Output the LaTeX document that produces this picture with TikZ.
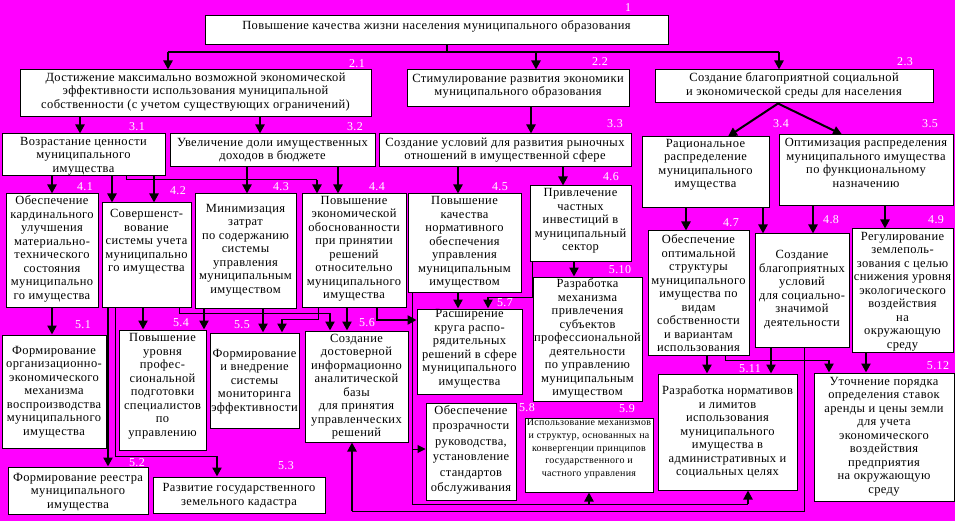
\documentclass[tikz,border=0pt]{standalone}
\usepackage{fontspec}
\setmainfont[LetterSpace=3]{Liberation Serif}
\usetikzlibrary{arrows.meta,fit}
\definecolor{bg}{RGB}{255,0,255}
\tikzset{
  boxst/.style={draw=black, fill=white, line width=1pt, inner sep=0pt},
  txt/.style={align=center, inner sep=0pt, font=\fontsize{12.5}{13.5}\selectfont},
  lab/.style={text=white, inner sep=0pt, font=\fontsize{12}{12}\selectfont},
  ta/.style={line width=2.6pt, -{Triangle[length=9pt,width=9pt]}},
  da/.style={line width=2pt, -{Triangle[length=9pt,width=9pt]}},
  tl/.style={line width=1pt},
  tlb/.style={line width=1.5pt},
  tha/.style={line width=1pt, -{Triangle[length=8pt,width=8pt]}},
}
\newcommand\mybox[8][]{%
  \node[boxst, fit={(#3,#4) (#5,#6)}] (#2) {};
  \node[txt,#1] (#2t) at ({(#3+#5)/2},#7) {#8};}
\newcommand\varr[3]{\draw[ta] (#1.south -| #3,0) -- (#2.north -| #3,0);}
\begin{document}
\begin{tikzpicture}[x=1pt,y=-1pt]
\useasboundingbox (0,0) rectangle (955,521);
\fill[bg] (0,0) rectangle (955,521);
% boxes
\mybox{b1}{205}{16}{668}{45}{26}{Повышение качества жизни населения муниципального образования}
\mybox{b21}{20}{70}{371}{117}{92}{Достижение максимально возможной экономической\\эффективности использования муниципальной\\собственности (с учетом существующих ограничений)}
\mybox{b22}{407}{70}{629}{107}{86}{Стимулирование развития экономики\\муниципального образования}
\mybox{b23}{655}{70}{933}{103}{85.5}{Создание благоприятной социальной\\и экономической среды для населения}
\mybox{b31}{2}{134}{165}{176}{156}{Возрастание ценности\\муниципального\\имущества}
\mybox{b32}{170}{134}{375}{167}{150}{Увеличение доли имущественных\\доходов в бюджете}
\mybox{b33}{379}{134}{631}{167}{150}{Создание условий для развития рыночных\\отношений в имущественной сфере}
\mybox{b34}{642}{137}{769}{208}{165}{Рациональное\\распределение\\муниципального\\имущества}
\mybox{b35}{779}{135}{953}{206}{163}{Оптимизация распределения\\муниципального имущества\\по функциональному\\назначению}
\mybox{b41}{6}{194}{98}{307}{249}{Обеспечение\\кардинального\\улучшения\\материально-\\технического\\состояния\\муниципально\\го имущества}
\mybox{b42}{102}{203}{191}{307}{242}{Совершенст-\\вование\\системы учета\\муниципально\\го имущества}
\mybox{b43}{195}{194}{296}{308}{250}{Минимизация\\затрат\\по содержанию\\системы\\управления\\муниципальным\\имуществом}
\mybox{b44}{302}{194}{406}{307}{249}{Повышение\\экономической\\обоснованности\\при принятии\\решений\\относительно\\муниципального\\имущества}
\mybox{b45}{408}{194}{521}{292}{242.5}{Повышение\\качества\\нормативного\\обеспечения\\управления\\муниципальным\\имуществом}
\mybox{b46}{530}{186}{631}{262}{221}{Привлечение\\частных\\инвестиций в\\муниципальный\\сектор}
\mybox{b47}{648}{231}{749}{355}{293.5}{Обеспечение\\оптимальной\\структуры\\муниципального\\имущества по\\видам\\собственности\\и вариантам\\использования}
\mybox{b48}{755}{234}{849}{347}{289.5}{Создание\\благоприятных\\условий\\для социально-\\значимой\\деятельности}
\mybox{b49}{852}{229}{953}{352}{291.5}{Регулирование\\землеполь-\\зования с целью\\снижения уровня\\экологического\\воздействия\\на\\окружающую\\среду}
\mybox{b51}{2}{335}{106}{448}{392}{Формирование\\организационно-\\экономического\\механизма\\воспроизводства\\муниципального\\имущества}
\mybox{b52}{8}{467}{148}{514}{492}{Формирование реестра\\муниципального\\имущества}
\mybox{b53}{153}{477}{325}{513}{495.5}{Развитие государственного\\земельного кадастра}
\mybox{b54}{119}{330}{206}{450}{386.5}{Повышение\\уровня\\профес-\\сиональной\\подготовки\\специалистов\\по\\управлению}
\mybox{b55}{210}{333}{299}{428}{381.5}{Формирование\\и внедрение\\системы\\мониторинга\\эффективности}
\mybox{b56}{305}{331}{408}{442}{386.5}{Создание\\достоверной\\информационно\\аналитической\\базы\\для принятия\\управленческих\\решений}
\mybox{b57}{417}{309}{522}{394}{349}{Расширение\\круга распо-\\рядительных\\решений в сфере\\муниципального\\имущества}
\mybox[font=\fontsize{12.5}{15.5}\selectfont]{b58}{426}{403}{516}{500}{450}{Обеспечение\\прозрачности\\руководства,\\установление\\стандартов\\обслуживания}
\mybox[font=\fontsize{10}{12.8}\selectfont]{b59}{525}{418}{653}{492}{449}{Использование механизмов\\и структур, основанных на\\конвергенции принципов\\государственного и\\частного управления}
\mybox{b510}{533}{277}{642}{401}{338.5}{Разработка\\механизма\\привлечения\\субъектов\\профессиональной\\деятельности\\по управлению\\муниципальным\\имуществом}
\mybox{b511}{658}{374}{797}{490}{432}{Разработка нормативов\\и лимитов\\использования\\муниципального\\имущества в\\административных и\\социальных целях}
\mybox{b512}{814}{373}{954}{501}{436.5}{Уточнение порядка\\определения ставок\\аренды и цены земли\\для учета\\экономического\\воздействия\\предприятия\\на окружающую\\среду}
% top bus
\coordinate (j1) at (447,52);
\coordinate (j1l) at (168,52);
\coordinate (j1m) at (536,52);
\coordinate (j1r) at (779,52);
\draw[tlb] (b1.south -| j1) -- (j1);
\draw[tlb] (j1l) -- (j1r);
\draw[ta] (j1l) -- (b21.north -| j1l);
\draw[ta] (j1m) -- (b22.north -| j1m);
\draw[ta] (j1r) -- (b23.north -| j1r);
% level 2 -> 3
\varr{b21}{b31}{80}
\varr{b21}{b32}{260}
\varr{b22}{b33}{531}
\draw[da] (b23.south -| 778,0) -- (b34.north -| 728,0);
\draw[da] (b23.south -| 778,0) -- (b35.north -| 842,0);
% level 3 -> 4
\varr{b31}{b41}{52}
\varr{b31}{b42}{112}
\varr{b31}{b42}{154}
\draw[tl] (b31.south -| 126,0) -- (126,180) -- (317,180);
\draw[ta] (317,180) -- (b44.north -| 317,0);
\varr{b32}{b43}{247}
\varr{b32}{b44}{338}
\varr{b33}{b45}{458}
\varr{b33}{b46}{563}
\varr{b34}{b47}{686}
\varr{b34}{b48}{763}
\varr{b35}{b48}{813}
\varr{b35}{b49}{885}
% level 4 -> 5
\varr{b41}{b51}{52}
\varr{b42}{b52}{108}
\draw[tl] (b42.south -| 115,0) -- (115,456) -- (217,456);
\draw[ta] (217,456) -- (b53.north -| 217,0);
\varr{b42}{b54}{143}
\draw[tl] (b42.south -| 179,0) -- (179,313) -- (330,313);
\draw[ta] (330,313) -- (b56.north -| 330,0);
\varr{b43}{b54}{204}
\varr{b43}{b55}{263}
\draw[tl] (b44.south -| 318,0) -- (318,319) -- (282,319);
\draw[ta] (282,319) -- (b55.north -| 282,0);
\varr{b44}{b56}{347}
\draw[ta] (b44.south -| 377,0) -- (377,320) -- (b57.west |- 0,320);
\varr{b45}{b57}{458}
\draw[tl] (b45.south -| 412,0) -- (412,504) -- (748,504);
\draw[tha] (412,449) -- (b58.west |- 0,449);
\draw[ta] (589,504) -- (b59.south -| 589,0);
\draw[ta] (748,504) -- (b511.south -| 748,0);
\draw[tl] (b46.south -| 532,0) -- (532,297) -- (488,297);
\draw[ta] (488,297) -- (b57.north -| 488,0);
\varr{b46}{b510}{574}
\varr{b47}{b511}{707}
\draw[tl] (b47.south -| 725,0) -- (725,360) -- (829,360);
\draw[ta] (829,360) -- (b512.north -| 829,0);
\varr{b48}{b511}{771}
\draw[tl] (b48.south -| 804,0) -- (804,511) -- (352,511);
\draw[ta] (352,511) -- (b56.south -| 352,0);
\varr{b49}{b512}{866}
% labels
\node[lab] (l1) at (628,8) {1};
\node[lab] (l21) at (357,64) {2.1};
\node[lab] (l22) at (600,62) {2.2};
\node[lab] (l23) at (905,62) {2.3};
\node[lab] (l31) at (137,127) {3.1};
\node[lab] (l32) at (355,127) {3.2};
\node[lab] (l33) at (615,124) {3.3};
\node[lab] (l34) at (781,124) {3.4};
\node[lab] (l35) at (930,124) {3.5};
\node[lab] (l41) at (85,187) {4.1};
\node[lab] (l42) at (178,191) {4.2};
\node[lab] (l43) at (281,187) {4.3};
\node[lab] (l44) at (377,187) {4.4};
\node[lab] (l45) at (500,187) {4.5};
\node[lab] (l46) at (611,177) {4.6};
\node[lab] (l47) at (731,223) {4.7};
\node[lab] (l48) at (831,220) {4.8};
\node[lab] (l49) at (936,220) {4.9};
\node[lab] (l51) at (83,325) {5.1};
\node[lab] (l52) at (137,463) {5.2};
\node[lab] (l53) at (286,466) {5.3};
\node[lab] (l54) at (181,323) {5.4};
\node[lab] (l55) at (242,325) {5.5};
\node[lab] (l56) at (367,323) {5.6};
\node[lab] (l57) at (505,303) {5.7};
\node[lab] (l58) at (527,408) {5.8};
\node[lab] (l59) at (627,409) {5.9};
\node[lab] (l510) at (620,270) {5.10};
\node[lab] (l511) at (750,369) {5.11};
\node[lab] (l512) at (938,366) {5.12};
\end{tikzpicture}
\end{document}
